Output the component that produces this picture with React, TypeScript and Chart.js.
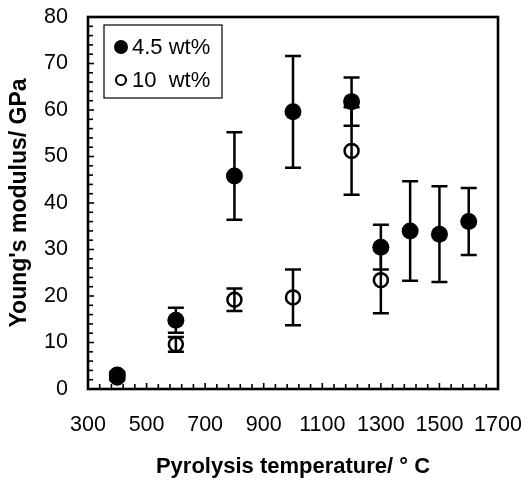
import React, { useEffect, useRef } from "react";
import { Chart, registerables } from "chart.js";

Chart.register(...registerables);

const temps45 = [400, 600, 800, 1000, 1200, 1300, 1400, 1500, 1600];
const modulus45 = [3.0, 14.8, 45.8, 59.6, 61.8, 30.5, 34.0, 33.3, 36.0];
const err45 = [0.7, 2.7, 9.4, 12.0, 5.2, 4.8, 10.7, 10.3, 7.2];

const temps10 = [400, 600, 800, 1000, 1200, 1300];
const modulus10 = [2.5, 9.6, 19.2, 19.7, 51.2, 23.4];
const err10 = [0.6, 1.6, 2.4, 6.0, 9.4, 7.1];

const seriesLabels = ["4.5 wt%", "10  wt%"];
const xTitle = "Pyrolysis temperature/ \u00B0 C";
const yTitle = "Young's modulus/ GPa";

const FONT = "'Liberation Sans', Arial, Helvetica, sans-serif";

const framePlugin = {
  id: "frameTicks",
  afterDraw(chart: any) {
    const { ctx, chartArea, scales } = chart;
    const { left, right, top, bottom } = chartArea;
    ctx.save();
    ctx.strokeStyle = "#000";
    ctx.lineWidth = 1.6;
    for (let v = 0; v <= 80; v += 2) {
      const y = scales.y.getPixelForValue(v);
      const len = v % 10 === 0 ? 6 : 5;
      ctx.beginPath();
      ctx.moveTo(left, y);
      ctx.lineTo(left + len, y);
      ctx.stroke();
    }
    for (let v = 300; v <= 1700; v += 40) {
      const x = scales.x.getPixelForValue(v);
      const len = (v - 300) % 200 === 0 ? 6 : 5;
      ctx.beginPath();
      ctx.moveTo(x, bottom);
      ctx.lineTo(x, bottom - len);
      ctx.stroke();
    }
    ctx.lineWidth = 2.6;
    ctx.strokeRect(left, top, right - left, bottom - top);

    // legend
    const bx = 104, by = 25, bw = 118, bh = 73;
    ctx.lineWidth = 1.2;
    ctx.fillStyle = "#fff";
    ctx.fillRect(bx, by, bw, bh);
    ctx.strokeRect(bx, by, bw, bh);
    ctx.font = `22px ${FONT}`;
    ctx.textBaseline = "middle";
    ctx.textAlign = "left";
    ctx.fillStyle = "#000";
    ctx.beginPath();
    ctx.arc(121, 47, 7, 0, Math.PI * 2);
    ctx.fill();
    ctx.fillText(seriesLabels[0], 132, 48);
    ctx.beginPath();
    ctx.lineWidth = 2.2;
    ctx.arc(121, 80, 5, 0, Math.PI * 2);
    ctx.stroke();
    ctx.fillText(seriesLabels[1], 132, 81);
    ctx.restore();
  },
};

const errorBarPlugin = {
  id: "errorBars",
  beforeDatasetsDraw(chart: any) {
    const { ctx, scales } = chart;
    const sets = [
      { xs: temps45, ys: modulus45, es: err45 },
      { xs: temps10, ys: modulus10, es: err10 },
    ];
    ctx.save();
    ctx.strokeStyle = "#000";
    ctx.lineWidth = 2.5;
    sets.forEach((s) => {
      s.xs.forEach((xv, i) => {
        const x = scales.x.getPixelForValue(xv);
        const y1 = scales.y.getPixelForValue(s.ys[i] - s.es[i]);
        const y2 = scales.y.getPixelForValue(s.ys[i] + s.es[i]);
        ctx.beginPath();
        ctx.moveTo(x, y1);
        ctx.lineTo(x, y2);
        ctx.moveTo(x - 8, y1);
        ctx.lineTo(x + 8, y1);
        ctx.moveTo(x - 8, y2);
        ctx.lineTo(x + 8, y2);
        ctx.stroke();
      });
    });
    ctx.restore();
  },
};

function zeroPad(scale: any) {
  scale.paddingLeft = 0;
  scale.paddingRight = 0;
  scale.paddingTop = 0;
  scale.paddingBottom = 0;
}

export default function App() {
  const ref = useRef<HTMLCanvasElement>(null);
  useEffect(() => {
    if (!ref.current) return;
    const chart = new Chart(ref.current, {
      type: "scatter",
      data: {
        datasets: [
          {
            label: seriesLabels[0],
            data: temps45.map((x, i) => ({ x, y: modulus45[i] })),
            backgroundColor: "#000",
            borderColor: "#000",
            pointRadius: 8.5,
            pointBorderWidth: 0,
          },
          {
            label: seriesLabels[1],
            data: temps10.map((x, i) => ({ x, y: modulus10[i] })),
            backgroundColor: "rgba(0,0,0,0)",
            borderColor: "#000",
            pointRadius: 7,
            pointBorderWidth: 2.5,
          },
        ],
      },
      options: {
        responsive: false,
        animation: false,
        layout: { padding: { top: 17, right: 27, left: 0, bottom: 0 } },
        plugins: { legend: { display: false }, tooltip: { enabled: false } },
        scales: {
          x: {
            type: "linear",
            min: 300,
            max: 1700,
            grid: { display: false, drawTicks: false },
            border: { display: false },
            ticks: {
              stepSize: 200,
              padding: 23,
              color: "#000",
              maxRotation: 0,
              font: { family: FONT, size: 21.5 },
              callback: (v: any) => String(v),
            },
            title: {
              display: true,
              text: xTitle,
              color: "#000",
              padding: { top: 0, bottom: 0 },
              font: { family: FONT, size: 22, weight: "bold" },
            },
            afterFit(scale: any) {
              scale.height = 91;
              zeroPad(scale);
            },
          },
          y: {
            min: 0,
            max: 80,
            grid: { display: false, drawTicks: false },
            border: { display: false },
            ticks: {
              stepSize: 10,
              padding: 20,
              color: "#000",
              font: { family: FONT, size: 21.5 },
              callback: (v: any) => String(v),
            },
            title: {
              display: true,
              text: yTitle,
              color: "#000",
              padding: { top: 6, bottom: 0 },
              font: { family: FONT, size: 23, weight: "bold" },
            },
            afterFit(scale: any) {
              scale.width = 88;
              zeroPad(scale);
            },
          },
        },
      },
      plugins: [errorBarPlugin, framePlugin],
    });
    return () => chart.destroy();
  }, []);
  return (
    <div style={{ position: "fixed", left: 0, top: 0, width: 525, height: 480, background: "#fff" }}>
      <canvas ref={ref} width={525} height={480} />
    </div>
  );
}
